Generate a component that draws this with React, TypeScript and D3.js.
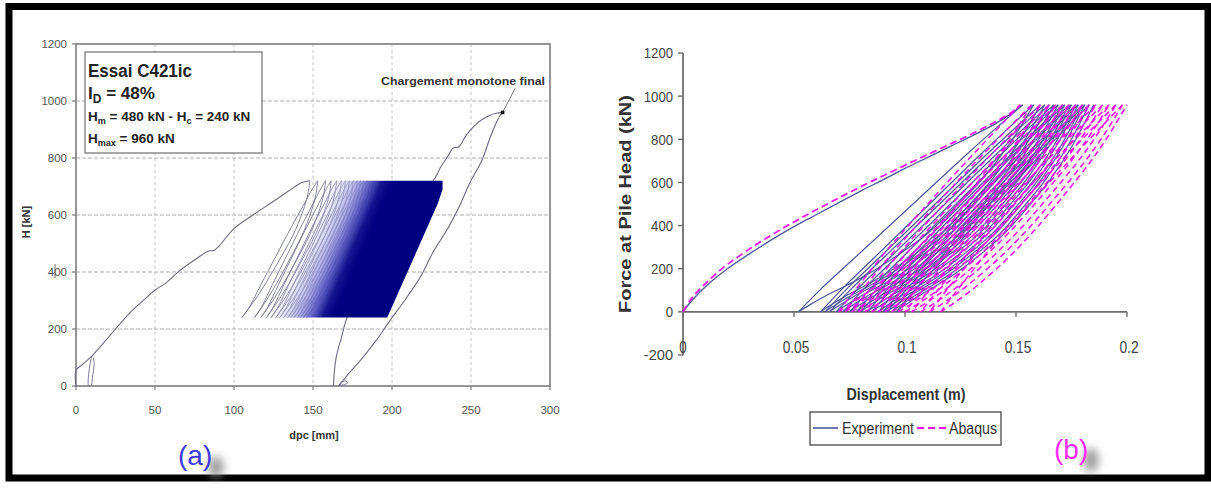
import React from "react";
import * as d3 from "d3";

const FONT = "'Liberation Sans', Arial, Helvetica, sans-serif";

// ---------------- Panel (a) data ----------------
const aXTicks = [0, 50, 100, 150, 200, 250, 300];
const aYTicks = [0, 200, 400, 600, 800, 1000, 1200];
const aMonotonic: [number, number][] = [
  [0, 0], [0, 55], [4, 75], [10, 105], [18, 155], [25, 200], [35, 262], [45, 312], [50, 337],
  [57, 362], [65, 402], [75, 442], [84, 474], [87, 475], [90, 488], [100, 552], [112, 600],
  [125, 648], [135, 686], [143, 714], [148, 720],
];
const aSmallLoop: [number, number][] = [
  [10, 105], [9, 80], [8, 40], [8, 2], [9.5, 2], [10.5, 35], [11.5, 75], [11, 100],
];
const aLoopTops = [148, 153, 158, 161.5, 165, 168, 170.5, 173, 175.5, 178, 180, 182, 184, 186, 188, 190];
const aLoopBottoms = [105, 113, 117, 120.5, 123.5, 126.5, 129, 131.5, 134, 136, 138, 140, 142, 144, 146];
const aCycleLow = 240;
const aCycleHigh = 720;
const aUnloadT = [1, 0.97, 0.9, 0.75, 0.55, 0.35, 0.15, 0];
const aUnloadF = [1, 0.9, 0.78, 0.6, 0.42, 0.25, 0.1, 0];
const aReloadT = [0, 0.1, 0.25, 0.45, 0.65, 0.82, 0.94, 1];
const aReloadF = [0, 0.08, 0.24, 0.45, 0.66, 0.83, 0.95, 1];
const aDenseRegion: [number, number][] = [
  [122, 240], [197, 240], [229, 640], [232, 690], [232, 720], [160, 720],
];
const aDenseShift = 38; // slant of the dense cycle band (mm per 480 kN)
const aFinalLeft: [number, number][] = [
  [163, 0], [163.5, 50], [165, 110], [168, 170], [171, 232], [185, 420], [200, 570], [215, 670],
  [226, 720], [231, 770], [235, 803], [239, 836], [242, 838], [247, 880], [252, 912], [257, 935],
  [262, 950], [266, 957], [270, 960],
];
const aFinalRight: [number, number][] = [
  [270, 960], [268, 945], [266.8, 933], [262, 870], [257, 793], [249, 710], [242.5, 629], [235, 550],
  [226, 470], [218, 383], [208, 300], [199, 232], [190, 160], [180, 90], [172, 40], [168, 12], [166, 0],
];
const aFinalSmallLoop: [number, number][] = [
  [167, 2], [170, 5], [172, 12], [170.5, 18], [167.5, 12], [167, 2],
];
const aLeader: [number, number][] = [[270, 960], [278, 1045]];
const aPeak: [number, number] = [270, 960];

// ---------------- Panel (b) data ----------------
const bXTicks = [0, 0.05, 0.1, 0.15, 0.2];
const bXLabels = ["0", "0.05", "0.1", "0.15", "0.2"];
const bYTicks = [-200, 0, 200, 400, 600, 800, 1000, 1200];
const expFirst: [number, number][] = [
  [0, 0], [0.003, 40], [0.006, 75], [0.01, 115], [0.015, 160], [0.02, 200], [0.03, 270],
  [0.04, 335], [0.05, 395], [0.06, 450], [0.07, 505], [0.08, 560], [0.09, 612], [0.1, 665],
  [0.11, 715], [0.12, 765], [0.13, 815], [0.14, 868], [0.148, 920], [0.153, 960],
];
const abqFirst: [number, number][] = [
  [0, 0], [0.003, 50], [0.006, 88], [0.01, 130], [0.015, 178], [0.02, 220], [0.03, 292],
  [0.04, 357], [0.05, 417], [0.06, 473], [0.07, 527], [0.08, 580], [0.09, 630], [0.1, 680],
  [0.11, 728], [0.12, 776], [0.13, 825], [0.14, 877], [0.148, 925], [0.152, 960],
];
const expTops = [0.153, 0.158, 0.161, 0.163, 0.165, 0.167, 0.169, 0.171, 0.172, 0.174, 0.175, 0.177, 0.178, 0.18, 0.181, 0.183, 0.185];
const expBottoms = [0.052, 0.062, 0.064, 0.066, 0.069, 0.072, 0.075, 0.078, 0.08, 0.083, 0.085, 0.088, 0.09, 0.092, 0.094, 0.096];
const abqTops = [0.152, 0.157, 0.161, 0.165, 0.168, 0.171, 0.174, 0.177, 0.18, 0.183, 0.186, 0.189, 0.192, 0.195, 0.198, 0.2];
const abqBottoms = [0.07, 0.073, 0.076, 0.079, 0.082, 0.085, 0.088, 0.091, 0.094, 0.097, 0.1, 0.103, 0.107, 0.111, 0.116];
const bLow = 0;
const bHigh = 960;
const expUnloadT = [1, 0.9, 0.75, 0.5, 0.25, 0.1, 0];
const expUnloadF = [1, 0.905, 0.76, 0.51, 0.26, 0.11, 0];
const expReloadT = [0, 0.05, 0.12, 0.2, 0.3, 0.43, 0.55, 0.67, 0.78, 0.89, 1];
const expReloadF = [0, 0.035, 0.08, 0.125, 0.185, 0.28, 0.38, 0.51, 0.64, 0.8, 1];
const abqUnloadT = [1, 0.75, 0.5, 0.25, 0];
const abqUnloadF = [1, 0.77, 0.53, 0.28, 0];
const abqReloadT = [0, 0.1, 0.2, 0.35, 0.5, 0.65, 0.8, 0.9, 1];
const abqReloadF = [0, 0.06, 0.13, 0.25, 0.39, 0.55, 0.72, 0.85, 1];
const legendItems = ["Experiment", "Abaqus"];

// ---------------- helpers ----------------
function buildLoops(
  tops: number[], bottoms: number[], lo: number, hi: number,
  uT: number[], uF: number[], rT: number[], rF: number[]
): [number, number][][] {
  const segs: [number, number][][] = [];
  bottoms.forEach((b, i) => {
    const t0 = tops[i];
    const t1 = tops[i + 1];
    segs.push(uT.map((t, k) => [b + t * (t0 - b), lo + uF[k] * (hi - lo)] as [number, number]));
    if (t1 !== undefined) {
      segs.push(rT.map((t, k) => [b + t * (t1 - b), lo + rF[k] * (hi - lo)] as [number, number]));
    }
  });
  return segs;
}

export default function App() {
  const xA = d3.scaleLinear().domain([0, 300]).range([76, 550]);
  const yA = d3.scaleLinear().domain([0, 1200]).range([386, 44]);
  const xB = d3.scaleLinear().domain([0, 0.2]).range([683, 1127]);
  const yB = d3.scaleLinear().domain([-200, 1200]).range([355, 53]);

  const lineA = d3.line<[number, number]>().x((d) => xA(d[0])).y((d) => yA(d[1])).curve(d3.curveCatmullRom.alpha(0.5));
  const lineAStraight = d3.line<[number, number]>().x((d) => xA(d[0])).y((d) => yA(d[1]));
  const lineB = d3.line<[number, number]>().x((d) => xB(d[0])).y((d) => yB(d[1])).curve(d3.curveCatmullRom.alpha(0.5));

  const aLoops = buildLoops(aLoopTops, aLoopBottoms, aCycleLow, aCycleHigh, aUnloadT, aUnloadF, aReloadT, aReloadF);
  const expLoops = buildLoops(expTops, expBottoms, bLow, bHigh, expUnloadT, expUnloadF, expReloadT, expReloadF);
  const abqLoops = buildLoops(abqTops, abqBottoms, bLow, bHigh, abqUnloadT, abqUnloadF, abqReloadT, abqReloadF);

  // gradient for dense cycle band: isolines parallel to band's slanted edges
  const gx0 = xA(aDenseRegion[0][0]);
  const gy0 = yA(aCycleLow);
  const edgeDx = xA(aDenseShift) - xA(0);
  const edgeDy = yA(aCycleHigh) - yA(aCycleLow);
  const len = Math.hypot(edgeDx, edgeDy);
  const px = -edgeDy / len;
  const py = edgeDx / len;
  const spanPx = xA(200) - xA(aDenseRegion[0][0]);
  const proj = spanPx * px;
  const gx1 = gx0 + proj * px;
  const gy1 = gy0 + proj * py;
  const s0 = aDenseRegion[0][0];
  const sSpan = 200 - s0;
  const stop = (s: number) => `${((s - s0) / sSpan) * 100}%`;

  const navyB = "#4f5898";
  const magenta = "#ff00ff";

  return (
    <div style={{ position: "absolute", left: 0, top: 0 }}>
      <svg width={1211} height={488} viewBox="0 0 1211 488" style={{ display: "block", fontFamily: FONT }}>
        <defs>
          <linearGradient id="denseGrad" gradientUnits="userSpaceOnUse" x1={gx0} y1={gy0} x2={gx1} y2={gy1}>
            <stop offset={stop(122)} stopColor="#d0d0f2" stopOpacity={0} />
            <stop offset={stop(131)} stopColor="#c4c4ee" stopOpacity={0.45} />
            <stop offset={stop(140)} stopColor="#9a9ae0" stopOpacity={0.75} />
            <stop offset={stop(148)} stopColor="#5a5ac4" stopOpacity={0.92} />
            <stop offset={stop(156)} stopColor="#141490" stopOpacity={1} />
            <stop offset={stop(163)} stopColor="#000080" stopOpacity={1} />
            <stop offset="100%" stopColor="#000080" stopOpacity={1} />
          </linearGradient>
          <filter id="blur" x="-50%" y="-50%" width="200%" height="200%">
            <feGaussianBlur stdDeviation="4" />
          </filter>
        </defs>

        <rect x={0} y={0} width={1211} height={488} fill="#ffffff" />
        <rect x={9} y={6.5} width={1199} height={471.5} fill="none" stroke="#000" strokeWidth={7} />

        {/* ================= Panel (a) ================= */}
        {aXTicks.slice(1, -1).map((v) => (
          <line key={"gx" + v} x1={xA(v)} x2={xA(v)} y1={yA(1200)} y2={yA(0)} stroke="#c4c4c4" strokeWidth={1} strokeDasharray="3,3" />
        ))}
        {aYTicks.slice(1, -1).map((v) => (
          <line key={"gy" + v} x1={xA(0)} x2={xA(300)} y1={yA(v)} y2={yA(v)} stroke="#b0b0b0" strokeWidth={1} strokeDasharray="4,2" />
        ))}
        <rect x={xA(0)} y={yA(1200)} width={xA(300) - xA(0)} height={yA(0) - yA(1200)} fill="none" stroke="#7c7c7c" strokeWidth={1.6} />
        {aYTicks.map((v) => (
          <line key={"ty" + v} x1={xA(0) - 4} x2={xA(0)} y1={yA(v)} y2={yA(v)} stroke="#7c7c7c" strokeWidth={1.2} />
        ))}
        {aXTicks.map((v) => (
          <line key={"tx" + v} x1={xA(v)} x2={xA(v)} y1={yA(0)} y2={yA(0) + 4} stroke="#7c7c7c" strokeWidth={1.2} />
        ))}
        {aYTicks.map((v) => (
          <text key={"ly" + v} x={67} y={yA(v)} dy="0.35em" textAnchor="end" fontSize={11.5} fill="#555">{v}</text>
        ))}
        <line x1={55} x2={55} y1={yA(400) - 8} y2={yA(400) + 6} stroke="#666" strokeWidth={1} />
        {aXTicks.map((v) => (
          <text key={"lx" + v} x={xA(v)} y={414} textAnchor="middle" fontSize={11.5} fill="#555">{v}</text>
        ))}
        <text transform={`translate(30,222) rotate(-90)`} textAnchor="middle" fontSize={11} fontWeight="bold" fill="#333">H [kN]</text>
        <text x={314} y={439} textAnchor="middle" fontSize={11} fontWeight="bold" fill="#333">dpc [mm]</text>

        <path d={lineA(aFinalLeft) || ""} fill="none" stroke="#6c6c84" strokeWidth={1.1} />
        {aLoops.map((s, i) => (
          <path key={"al" + i} d={lineA(s) || ""} fill="none" stroke="#777792" strokeWidth={0.9} />
        ))}
        <path d={lineAStraight(aDenseRegion) + "Z"} fill="url(#denseGrad)" stroke="none" />
        <path d={lineA(aMonotonic) || ""} fill="none" stroke="#6c6c80" strokeWidth={1.1} />
        <path d={lineA(aSmallLoop) || ""} fill="none" stroke="#7a7a90" strokeWidth={1} />
        <path d={lineA(aFinalRight) || ""} fill="none" stroke="#6c6c84" strokeWidth={1.1} />
        <path d={lineA(aFinalSmallLoop) || ""} fill="none" stroke="#6c6c84" strokeWidth={1} />
        <path d={lineAStraight(aLeader) || ""} fill="none" stroke="#777" strokeWidth={1} />
        <rect x={xA(aPeak[0]) - 1.8} y={yA(aPeak[1]) - 1.8} width={3.6} height={3.6} fill="#111" />
        <text x={381} y={85} fontSize={11} fontWeight="bold" fill="#333" textLength={164} lengthAdjust="spacingAndGlyphs">Chargement monotone final</text>

        <rect x={85} y={52} width={177} height={101} fill="#fff" stroke="#7a7a7a" strokeWidth={1.3} />
        <text x={88} y={77} fontSize={17.5} fontWeight="bold" fill="#222" textLength={104} lengthAdjust="spacingAndGlyphs">Essai C421ic</text>
        <text x={88} y={99} fontSize={17} fontWeight="bold" fill="#222">
          I<tspan fontSize={12} dy={4}>D</tspan><tspan dy={-4}> = 48%</tspan>
        </text>
        <text x={88} y={121} fontSize={13.5} fontWeight="bold" fill="#222">
          H<tspan fontSize={9} dy={3}>m</tspan><tspan dy={-3}> = 480 kN - H</tspan><tspan fontSize={9} dy={3}>c</tspan><tspan dy={-3}> = 240 kN</tspan>
        </text>
        <text x={88} y={143} fontSize={13.5} fontWeight="bold" fill="#222">
          H<tspan fontSize={9} dy={3}>max</tspan><tspan dy={-3}> = 960 kN</tspan>
        </text>

        <ellipse cx={216} cy={467} rx={8} ry={11} fill="#8a8a8a" opacity={0.8} filter="url(#blur)" />
        <text x={178} y={465} fontSize={28} fill="#3b3bdc">(a)</text>

        {/* ================= Panel (b) ================= */}
        <line x1={xB(0)} x2={xB(0)} y1={yB(1200)} y2={yB(-200)} stroke="#6e6e6e" strokeWidth={1.8} />
        <line x1={xB(0)} x2={xB(0.2)} y1={yB(0)} y2={yB(0)} stroke="#6e6e6e" strokeWidth={1.8} />
        {bYTicks.map((v) => (
          <line key={"bty" + v} x1={xB(0) - 5} x2={xB(0)} y1={yB(v)} y2={yB(v)} stroke="#6e6e6e" strokeWidth={1.4} />
        ))}
        {bXTicks.map((v) => (
          <line key={"btx" + v} x1={xB(v)} x2={xB(v)} y1={yB(0)} y2={yB(0) + 5} stroke="#6e6e6e" strokeWidth={1.4} />
        ))}
        {bYTicks.map((v) => (
          <text key={"bly" + v} x={673} y={yB(v)} dy="0.36em" textAnchor="end" fontSize={15} fill="#444"
            textLength={String(v).length * 7.3} lengthAdjust="spacingAndGlyphs">{v}</text>
        ))}
        {bXTicks.map((v, i) => (
          <text key={"blx" + v} x={xB(v) + (i === 0 ? 0 : 2)} y={353} textAnchor="middle" fontSize={17} fill="#444"
            textLength={bXLabels[i].length * 7.4 - (bXLabels[i].includes(".") ? 3 : 0)} lengthAdjust="spacingAndGlyphs">{bXLabels[i]}</text>
        ))}
        <text transform={`translate(631,204) rotate(-90)`} textAnchor="middle" fontSize={16} fontWeight="bold" fill="#333"
          textLength={218} lengthAdjust="spacingAndGlyphs">Force at Pile Head (kN)</text>
        <text x={906} y={400} textAnchor="middle" fontSize={17} fontWeight="bold" fill="#333"
          textLength={119} lengthAdjust="spacingAndGlyphs">Displacement (m)</text>

        <path d={lineB(expFirst) || ""} fill="none" stroke={navyB} strokeWidth={1.3} />
        {expLoops.map((s, i) => (
          <path key={"el" + i} d={lineB(s) || ""} fill="none" stroke={navyB} strokeWidth={1.2} />
        ))}
        <path d={lineB(abqFirst) || ""} fill="none" stroke={magenta} strokeWidth={1.7} strokeDasharray="7,4" />
        {abqLoops.map((s, i) => (
          <path key={"ml" + i} d={lineB(s) || ""} fill="none" stroke={magenta} strokeWidth={1.5} strokeDasharray="6,4" />
        ))}

        <rect x={810} y={412} width={191} height={33} fill="#fff" stroke="#555" strokeWidth={1.4} />
        <line x1={813} x2={838} y1={428} y2={428} stroke={navyB} strokeWidth={1.6} />
        <text x={842} y={434} fontSize={16} fill="#333" textLength={72} lengthAdjust="spacingAndGlyphs">{legendItems[0]}</text>
        <line x1={917} x2={947} y1={428} y2={428} stroke={magenta} strokeWidth={1.8} strokeDasharray="7,4" />
        <text x={949} y={434} fontSize={16} fill="#333" textLength={48} lengthAdjust="spacingAndGlyphs">{legendItems[1]}</text>

        <ellipse cx={1091} cy={460} rx={8} ry={12} fill="#8a8a8a" opacity={0.8} filter="url(#blur)" />
        <text x={1054} y={459} fontSize={28} fill="#ff2cff">(b)</text>
      </svg>
    </div>
  );
}
